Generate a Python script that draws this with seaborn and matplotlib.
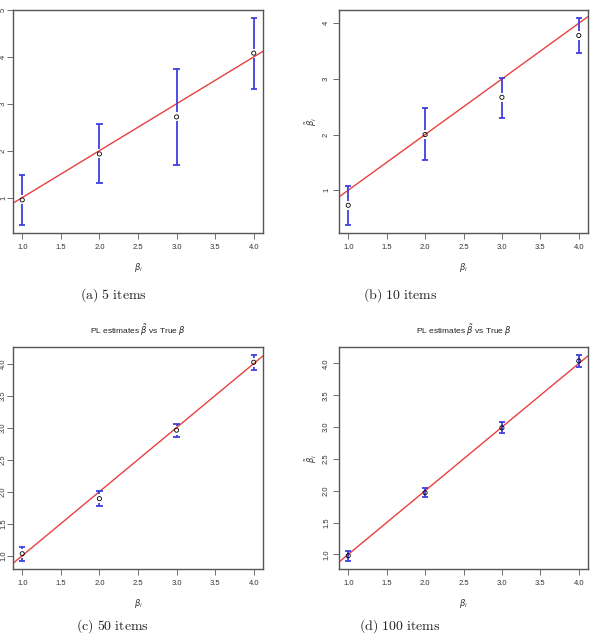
import matplotlib
matplotlib.use('Agg')
import matplotlib.pyplot as plt
import numpy as np
import seaborn as sns

sns.set_style('white')
plt.rcParams['font.family'] = ['Liberation Sans', 'DejaVu Sans']

# true item parameters and PL estimates with interval bounds
true_beta = [1.0, 2.0, 3.0, 4.0]

est_5 = [0.95, 1.93, 2.72, 4.08]
lo_5 = [0.42, 1.31, 1.69, 3.32]
hi_5 = [1.49, 2.56, 3.75, 4.82]

est_10 = [0.73, 2.00, 2.67, 3.78]
lo_10 = [0.38, 1.54, 2.29, 3.47]
hi_10 = [1.08, 2.47, 3.02, 4.09]

est_50 = [1.03, 1.89, 2.96, 4.02]
lo_50 = [0.92, 1.77, 2.85, 3.90]
hi_50 = [1.13, 2.01, 3.06, 4.13]

est_100 = [0.98, 1.97, 2.99, 4.04]
lo_100 = [0.90, 1.90, 2.90, 3.94]
hi_100 = [1.05, 2.04, 3.08, 4.13]

x_ticks = [1.0, 1.5, 2.0, 2.5, 3.0, 3.5, 4.0]
captions = ['(a) 5 items', '(b) 10 items', '(c) 50 items', '(d) 100 items']

W, H = 594, 635
fig = plt.figure(figsize=(W / 100, H / 100), dpi=100)

bar_col = '#3f3fe0'
line_col = '#e8413f'
tick_size = 5.5


def panel(box, est, lo, hi, yticks, ylabel, title, gap_px, ypad):
    left, top, right, bottom = box
    ax = fig.add_axes([left / W, 1 - bottom / H, (right - left) / W, (bottom - top) / H])
    # R style 4% padding
    xr = max(true_beta) - min(true_beta)
    ax.set_xlim(min(true_beta) - 0.04 * xr, max(true_beta) + 0.04 * xr)
    yr = max(hi) - min(lo)
    ax.set_ylim(min(lo) - 0.04 * yr, max(hi) + 0.04 * yr)

    ax.axline((0, 0), slope=1, color=line_col, lw=1.0, zorder=1)

    ypp = (ax.get_ylim()[1] - ax.get_ylim()[0]) / (bottom - top)
    xpp = (ax.get_xlim()[1] - ax.get_xlim()[0]) / (right - left)
    g = gap_px * ypp
    e = np.array(est)
    l = np.array(lo)
    h = np.array(hi)
    up0 = np.minimum(e + g, h)
    dn0 = np.maximum(e - g, l)
    ax.vlines(true_beta, up0, h, color=bar_col, lw=1.3, zorder=2)
    ax.vlines(true_beta, l, dn0, color=bar_col, lw=1.3, zorder=2)
    cap = 3.2 * xpp
    ax.hlines(lo, np.array(true_beta) - cap, np.array(true_beta) + cap, color=bar_col, lw=1.3, zorder=2)
    ax.hlines(hi, np.array(true_beta) - cap, np.array(true_beta) + cap, color=bar_col, lw=1.3, zorder=2)

    sns.scatterplot(x=true_beta, y=est, ax=ax, marker='o', s=9, facecolor='none',
                    edgecolor='black', linewidth=0.6, zorder=3)

    ax.set_xticks(x_ticks)
    ax.set_xticklabels(['%.1f' % t for t in x_ticks])
    ax.set_yticks(yticks)
    if all(float(t).is_integer() for t in yticks):
        ax.set_yticklabels(['%d' % t for t in yticks])
    else:
        ax.set_yticklabels(['%.1f' % t for t in yticks])
    for lab in ax.get_yticklabels():
        lab.set_rotation(90)
        lab.set_va('center')
    ax.tick_params(axis='both', direction='out', length=4, width=0.6, color='#555555',
                   labelsize=tick_size, labelcolor='#333333', left=True, bottom=True)
    ax.tick_params(axis='x', pad=4)
    ax.tick_params(axis='y', pad=ypad)
    for s in ax.spines.values():
        s.set_color('#555555')
        s.set_linewidth(1.0)
    ax.set_xlabel(r'$\beta_i$', fontsize=6, color='#333333', labelpad=7)
    if ylabel:
        ax.set_ylabel(r'$\tilde{\beta}_i$', fontsize=6, color='#333333', labelpad=3)
    if title:
        ax.set_title(r'PL estimates $\tilde{\beta}$ vs True $\beta$', fontsize=6, color='#222222', pad=9)
    return ax


panel((13, 10, 263, 233), est_5, lo_5, hi_5, [1, 2, 3, 4, 5], False, False, 4.5, 0.3)
panel((339, 10, 588, 233), est_10, lo_10, hi_10, [1, 2, 3, 4], True, False, 4.5, 2.5)
panel((13, 347, 263, 569), est_50, lo_50, hi_50, [1.0, 1.5, 2.0, 2.5, 3.0, 3.5, 4.0], False, True, 4.5, 0.3)
panel((339, 347, 588, 569), est_100, lo_100, hi_100, [1.0, 1.5, 2.0, 2.5, 3.0, 3.5, 4.0], True, True, 0, 2.5)

cap_pos = [(113, 295), (400, 295), (113, 626), (400, 626)]
for (cx, cy), txt in zip(cap_pos, captions):
    fig.text(cx / W, 1 - cy / H, r'$\mathrm{' + txt.replace(' ', r'\ ') + '}$',
             math_fontfamily='cm', fontsize=10, ha='center', va='center', color='#222222')

fig.savefig('out.png', dpi=100)
